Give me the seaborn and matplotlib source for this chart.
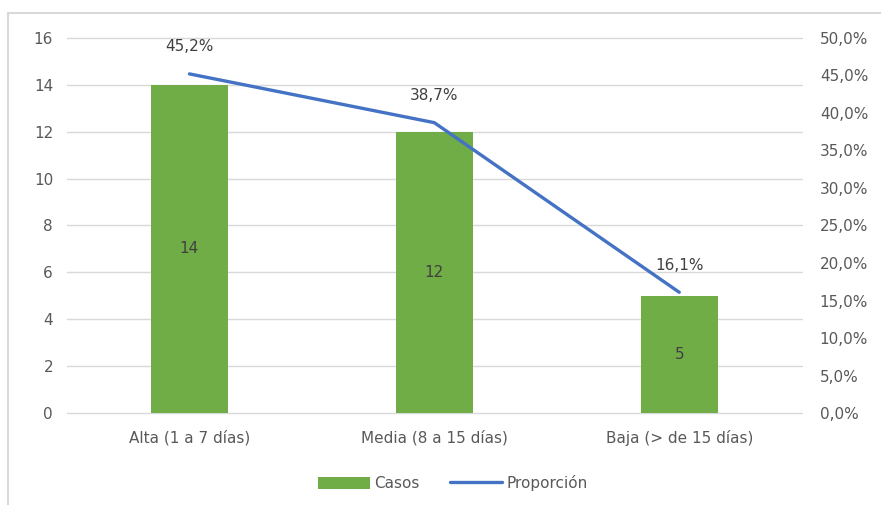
import matplotlib
matplotlib.use("Agg")
import matplotlib.pyplot as plt
import seaborn as sns
import pandas as pd
from matplotlib.ticker import FuncFormatter, MultipleLocator
from matplotlib.patches import Patch
from matplotlib.lines import Line2D

categorias = ["Alta (1 a 7 días)", "Media (8 a 15 días)", "Baja (> de 15 días)"]
casos = [14, 12, 5]
proporcion = [45.2, 38.7, 16.1]

VERDE = "#70AD47"
AZUL = "#4472C4"
GRIS_TXT = "#595959"
GRIS_LINEA = "#D9D9D9"
FS = 11

sns.set_theme(style="white")
plt.rcParams["font.family"] = ["DejaVu Sans"]

df = pd.DataFrame({"categoria": categorias, "casos": casos, "proporcion": proporcion})

fig = plt.figure(figsize=(8.81, 5.05), dpi=100)
ax = fig.add_axes([0.076, 0.182, 0.834, 0.743])

sns.barplot(data=df, x="categoria", y="casos", color=VERDE, width=0.315,
            saturation=1, linewidth=0, ax=ax, zorder=2)
ax.set_ylim(0, 16)
ax.yaxis.set_major_locator(MultipleLocator(2))
ax.grid(axis="y", color=GRIS_LINEA, linewidth=1, zorder=0)
ax.set_axisbelow(True)
ax.set_xlabel("")
ax.set_ylabel("")
ax.set_xlim(-0.5, 2.5)
for s in ax.spines.values():
    s.set_visible(False)
ax.tick_params(axis="both", length=0, colors=GRIS_TXT, labelsize=FS)
ax.tick_params(axis="x", pad=12)
ax.tick_params(axis="y", pad=10)
for gl in ax.get_ygridlines():
    gl.set_clip_on(False)

for i, v in enumerate(casos):
    ax.text(i, v / 2, f"{v}", ha="center", va="center", color="#404040", fontsize=FS)

ax2 = ax.twinx()
sns.lineplot(x=list(range(len(categorias))), y=proporcion, color=AZUL,
             linewidth=2.4, ax=ax2, sort=False)
ax2.set_ylim(0, 50)
ax2.yaxis.set_major_locator(MultipleLocator(5))
ax2.yaxis.set_major_formatter(FuncFormatter(lambda v, p: f"{v:.1f}%".replace(".", ",")))
for s in ax2.spines.values():
    s.set_visible(False)
ax2.tick_params(axis="y", length=0, colors=GRIS_TXT, labelsize=FS, pad=13)
ax2.grid(False)
ax2.set_xlim(-0.5, 2.5)

for i, p in enumerate(proporcion):
    ax2.text(i, p + 3.6, f"{p:.1f}%".replace(".", ","), ha="center", va="center",
             color="#404040", fontsize=FS)

handles = [Patch(facecolor=VERDE, edgecolor="none", label="Casos"),
           Line2D([0], [0], color=AZUL, linewidth=2.4, label="Proporción")]
fig.legend(handles=handles, loc="center", bbox_to_anchor=(0.514, 0.043), ncol=2,
           frameon=False, fontsize=FS, handlelength=3.4, handleheight=0.9,
           handletextpad=0.3, columnspacing=2.0, labelcolor=GRIS_TXT)

# chart border
fig.add_artist(Line2D([0.0095, 0.0095], [0.0, 0.975], color=GRIS_LINEA, linewidth=1.5,
                      transform=fig.transFigure))
fig.add_artist(Line2D([0.0095, 1.0], [0.975, 0.975], color=GRIS_LINEA, linewidth=1.5,
                      transform=fig.transFigure))

fig.savefig("out.png", dpi=100)
